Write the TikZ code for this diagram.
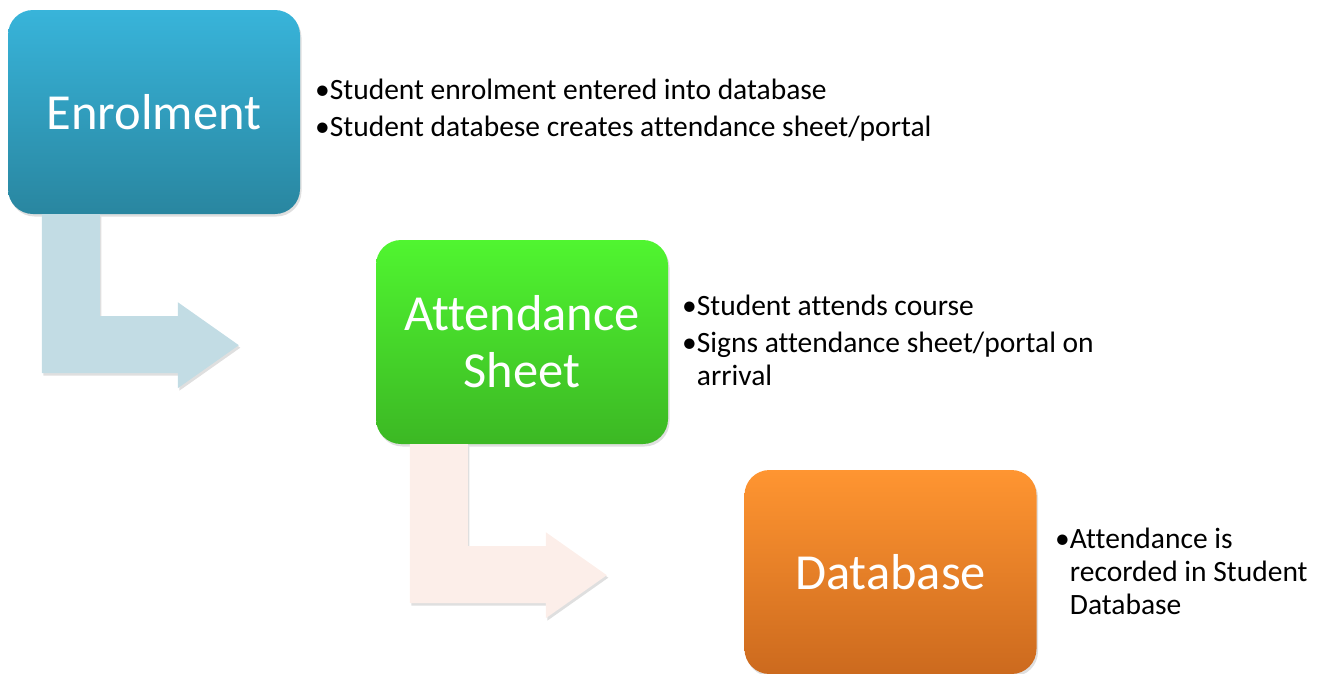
\documentclass[tikz,border=0pt]{standalone}
\usepackage{fontspec}
\setmainfont{Carlito}[Ligatures=NoCommon]
\usetikzlibrary{shadows}

\definecolor{enrolTop}{HTML}{38B4DA}
\definecolor{enrolBot}{HTML}{2986A0}
\definecolor{sheetTop}{HTML}{50F530}
\definecolor{sheetBot}{HTML}{3CB824}
\definecolor{dbaseTop}{HTML}{FF9531}
\definecolor{dbaseBot}{HTML}{CC6A1E}
\definecolor{bendBlue}{HTML}{C2DCE4}
\definecolor{bendPink}{HTML}{FCEEE9}

\begin{document}
\begin{tikzpicture}[
        x=1pt, y=-1pt, % Pixel-Koordinaten, y nach unten
        box/.style={rounded corners=25pt, minimum width=292pt, minimum height=204pt,
            inner sep=0pt, align=center, text=white,
            font=\fontsize{50.5}{57}\selectfont,
            drop shadow={opacity=0.25, shadow xshift=1.5pt, shadow yshift=-2.5pt}},
        note/.style={anchor=base west, align=left, inner sep=0pt,
            font=\fontsize{29.5}{33}\selectfont}, % base = letzte Zeile
        bendarrow/.pic={
            \fill[#1, drop shadow={opacity=0.25, shadow xshift=1.5pt, shadow yshift=-2.5pt}]
                (34,0) -- (34,159) -- (170,159) -- (170,174) -- (231,131)
                -- (170,88) -- (170,102) -- (92,102) -- (92,0) -- cycle;
        },
    ]
    \useasboundingbox (0,0) rectangle (1319,673);

    % Kaesten
    \node[box, top color=enrolTop, bottom color=enrolBot] (enrol) at (154,112) {Enrolment};
    \node[box, top color=sheetTop, bottom color=sheetBot] (sheet) at (522,342) {Attendance\\Sheet};
    \node[box, top color=dbaseTop, bottom color=dbaseBot] (dbase) at (890.5,572) {Database};

    % Pfeile
    \pic at (enrol.south west) {bendarrow=bendBlue};
    \pic at (sheet.south west) {bendarrow=bendPink};

    % Texte
    \node[note] (enrolTxt) at (315,136.5) {•Student enrolment entered into database\\[4pt]
        •Student databese creates attendance sheet/portal};
    \node[note] (sheetTxt) at (682,385) {•Student attends course\\[4pt]
        •Signs attendance sheet/portal on\\\phantom{•}arrival};
    \node[note] (dbaseTxt) at (1055,614) {•Attendance is\\\phantom{•}recorded in Student\\\phantom{•}Database};
\end{tikzpicture}
\end{document}
